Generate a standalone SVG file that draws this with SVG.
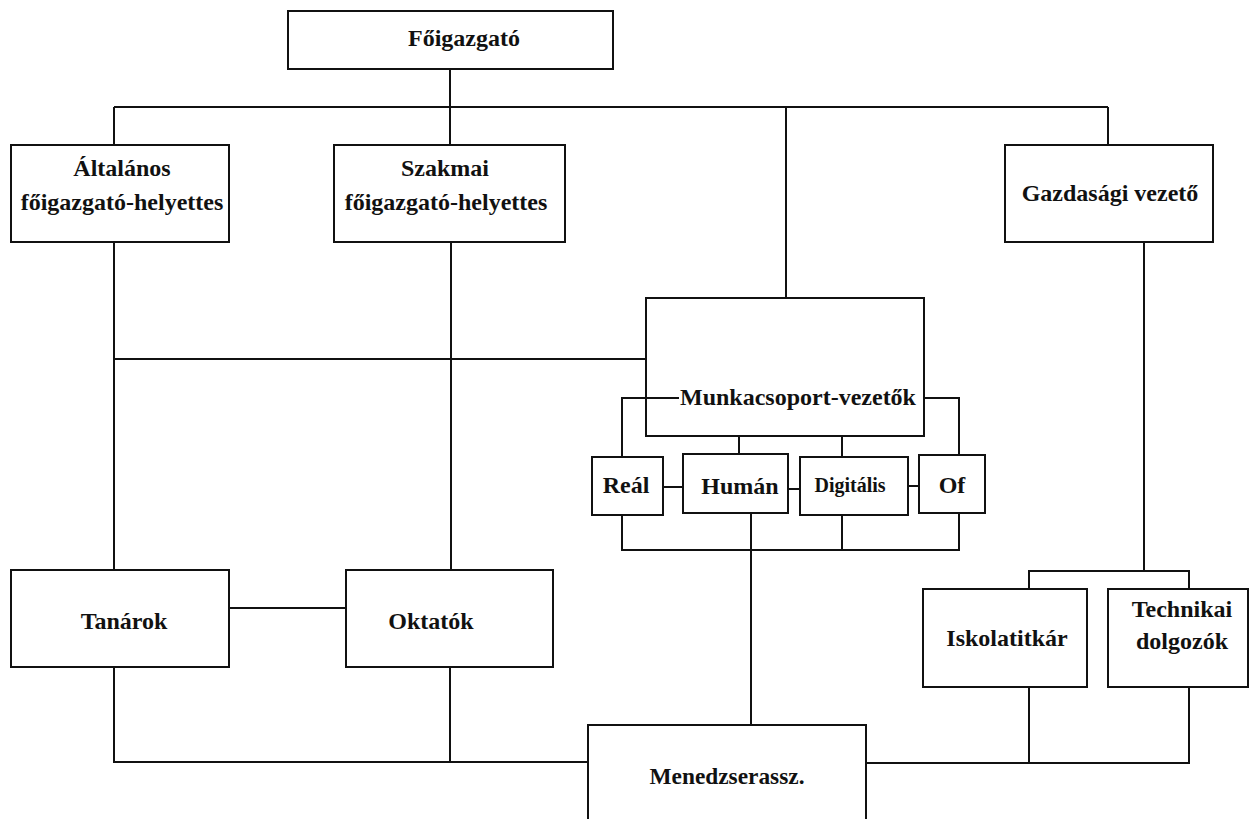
<svg xmlns="http://www.w3.org/2000/svg" width="1249" height="819" viewBox="0 0 1249 819">
<style>
.box{fill:#fff;stroke:#111;stroke-width:2}
.ln{fill:none;stroke:#111;stroke-width:2}
text{font-family:"Liberation Serif","Times New Roman",serif;font-weight:bold;font-size:24px;fill:#111;text-anchor:middle}
</style>
<rect width="1249" height="819" fill="#fff"/>
<g id="connectors">
<path class="ln" d="M450 69V107M114 107H1108M114 107V145M450 107V145M786 107V298M1108 107V145"/>
<path class="ln" d="M114 242V570M451 242V570M114 359H646"/>
<path class="ln" d="M229 608H346"/>
<path class="ln" d="M622 457V398H679M924 398H959V455"/>
<path class="ln" d="M739 436V454M842 436V457"/>
<path class="ln" d="M663 487H683M788 489H800M908 486H919"/>
<path class="ln" d="M622 515V550H959V513M842 515V550M751 513V725"/>
<path class="ln" d="M114 667V762H588M450 667V762"/>
<path class="ln" d="M1144 242V571M1029 589V571H1189V589"/>
<path class="ln" d="M866 763H1189V687M1029 687V763"/>
</g>
<g id="foigazgato"><rect class="box" x="288" y="11" width="325" height="58"/><text x="464" y="46">Főigazgató</text></g>
<g id="altalanos"><rect class="box" x="11" y="145" width="218" height="97"/><text x="122" y="176">Általános</text><text x="122" y="210">főigazgató-helyettes</text></g>
<g id="szakmai"><rect class="box" x="334" y="145" width="231" height="97"/><text x="445" y="176">Szakmai</text><text x="446" y="210">főigazgató-helyettes</text></g>
<g id="gazdasagi"><rect class="box" x="1005" y="145" width="208" height="97"/><text x="1110" y="201">Gazdasági vezető</text></g>
<g id="munkacsoport"><rect class="box" x="646" y="298" width="278" height="138"/><path class="ln" d="M646 398H679"/><text x="680" y="405" style="text-anchor:start">Munkacsoport-vezetők</text></g>
<g id="real"><rect class="box" x="592" y="457" width="71" height="58"/><text x="626" y="493">Reál</text></g>
<g id="human"><rect class="box" x="683" y="454" width="105" height="59"/><text x="740" y="494">Humán</text></g>
<g id="digitalis"><rect class="box" x="800" y="457" width="108" height="58"/><text x="850" y="492" style="font-size:20px">Digitális</text></g>
<g id="of"><rect class="box" x="919" y="455" width="66" height="58"/><text x="952" y="493">Of</text></g>
<g id="tanarok"><rect class="box" x="11" y="570" width="218" height="97"/><text x="124" y="629">Tanárok</text></g>
<g id="oktatok"><rect class="box" x="346" y="570" width="207" height="97"/><text x="431" y="629">Oktatók</text></g>
<g id="iskolatitkar"><rect class="box" x="923" y="589" width="164" height="98"/><text x="1007" y="646">Iskolatitkár</text></g>
<g id="technikai"><rect class="box" x="1108" y="589" width="140" height="98"/><text x="1182" y="617">Technikai</text><text x="1182" y="649">dolgozók</text></g>
<g id="menedzser"><rect class="box" x="588" y="725" width="278" height="110"/><text x="727" y="784" textLength="155" lengthAdjust="spacingAndGlyphs">Menedzserassz.</text></g>
</svg>
